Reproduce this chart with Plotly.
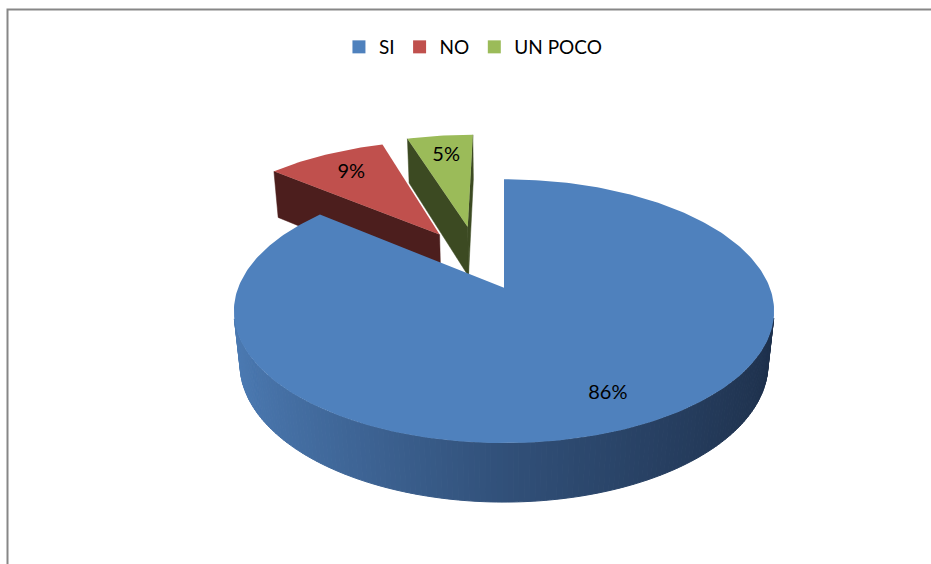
import numpy as np
import plotly.graph_objects as go

# ---------------- data ----------------
categories = ["SI", "NO", "UN POCO"]
values = [86, 9, 5]

# ---------------- style ----------------
W, H = 931, 564
top_colors = ["#4F81BD", "#C0504D", "#9BBB59"]
face_colors = ["#2A4670", "#4C1E1D", "#3C4A22"]
wall_stops = [(-1.0, (76, 123, 180)), (0.0, (49, 80, 121)), (1.0, (29, 47, 74))]
pull = [0.0, 0.52, 0.54]
pull_turn = [0.0, 4.0, -7.0]
label_r = [0.80, 0.75, 0.75]
FONT = "Lato"

# camera / projection parameters
PHI = np.radians(30.0)
DIST = 5.0
HGT = 0.22
SX, SY = 260.0, 268.0
CX, CY = 504.0, 340.0
CAM = np.array([0.0, DIST * np.sin(PHI), DIST * np.cos(PHI)])


def proj(X, Y, Z):
    X = np.asarray(X, float)
    Y = np.asarray(Y, float)
    Z = np.asarray(Z, float)
    yc = Y * np.cos(PHI) - Z * np.sin(PHI)
    d = Y * np.sin(PHI) + Z * np.cos(PHI)
    p = DIST / (DIST - d)
    return CX + SX * X * p, CY - SY * yc * p


def depth(X, Y, Z):
    return Y * np.sin(PHI) + Z * np.cos(PHI)


def wall_color(x):
    for (x0, c0), (x1, c1) in zip(wall_stops[:-1], wall_stops[1:]):
        if x <= x1 or (x1 == wall_stops[-1][0]):
            t = min(max((x - x0) / (x1 - x0), 0.0), 1.0)
            c = [int(round(a + (b - a) * t)) for a, b in zip(c0, c1)]
            return "rgb(%d,%d,%d)" % tuple(c)


def poly(xs, ys, color, lw=0.0):
    xs = list(xs) + [xs[0]]
    ys = list(ys) + [ys[0]]
    return go.Scatter(x=xs, y=ys, mode="lines", fill="toself", fillcolor=color,
                      line=dict(color=color, width=lw), hoverinfo="skip",
                      showlegend=False)


total = float(sum(values))
edges = np.concatenate([[0.0], np.cumsum(values)]) / total * 360.0

slices = []
for i, v in enumerate(values):
    a0, a1 = edges[i], edges[i + 1]
    mid = 0.5 * (a0 + a1)
    ang = np.radians(mid + pull_turn[i])
    ox, oz = pull[i] * np.sin(ang), -pull[i] * np.cos(ang)
    md = depth(ox + 0.5 * np.sin(np.radians(mid)), 0.0, oz - 0.5 * np.cos(np.radians(mid)))
    slices.append(dict(i=i, a0=a0, a1=a1, mid=mid, ox=ox, oz=oz, md=md))

traces = []
label_x, label_y, label_t = [], [], []

for s in sorted(slices, key=lambda q: q["md"]):
    i, a0, a1, ox, oz = s["i"], s["a0"], s["a1"], s["ox"], s["oz"]
    n = max(3, int((a1 - a0) / 1.0) + 1)
    th = np.radians(np.linspace(a0, a1, n))
    rx, rz = ox + np.sin(th), oz - np.cos(th)

    # radial faces
    for a, sign in ((a0, -1.0), (a1, 1.0)):
        ar = np.radians(a)
        nvec = sign * np.array([np.cos(ar), 0.0, np.sin(ar)])
        P = np.array([ox, 0.0, oz])
        if np.dot(nvec, CAM - P) > 1e-9:
            ex, ez = ox + np.sin(ar), oz - np.cos(ar)
            X = [ox, ex, ex, ox]
            Y = [HGT, HGT, 0.0, 0.0]
            Z = [oz, ez, ez, oz]
            px, py = proj(X, Y, Z)
            traces.append(poly(px, py, face_colors[i], 0.5))

    # outer wall, in strips
    for k in range(n - 1):
        tm = 0.5 * (th[k] + th[k + 1])
        nvec = np.array([np.sin(tm), 0.0, -np.cos(tm)])
        P = np.array([ox + np.sin(tm), 0.0, oz - np.cos(tm)])
        if np.dot(nvec, CAM - P) <= 0:
            continue
        X = [rx[k], rx[k + 1], rx[k + 1], rx[k]]
        Y = [HGT, HGT, 0.0, 0.0]
        Z = [rz[k], rz[k + 1], rz[k + 1], rz[k]]
        px, py = proj(X, Y, Z)
        col = wall_color(np.sin(tm)) if i == 0 else face_colors[i]
        traces.append(poly(px, py, col, 1.0))

    # top face
    X = np.concatenate([[ox], rx])
    Z = np.concatenate([[oz], rz])
    px, py = proj(X, np.full_like(X, HGT), Z)
    traces.append(poly(px, py, top_colors[i], 0.0))

    # label
    mr = np.radians(s["mid"])
    lx, ly = proj(ox + label_r[i] * np.sin(mr), HGT, oz - label_r[i] * np.cos(mr))
    label_x.append(float(lx))
    label_y.append(float(ly))
    label_t.append("%d%%" % round(values[i] / total * 100))

fig = go.Figure()
for i, c in enumerate(categories):
    fig.add_trace(go.Scatter(x=[None], y=[None], mode="markers", name=c,
                             marker=dict(symbol="square", size=13, color=top_colors[i]),
                             showlegend=True, hoverinfo="skip"))
for t in traces:
    fig.add_trace(t)
fig.add_trace(go.Scatter(x=label_x, y=label_y, mode="text", text=label_t,
                         textfont=dict(family=FONT, size=20, color="#000000"),
                         hoverinfo="skip", showlegend=False))

fig.add_shape(type="rect", xref="x", yref="y", x0=7.5, y0=9.5, x1=W + 30, y1=H + 30,
              line=dict(color="#878787", width=2), fillcolor="rgba(0,0,0,0)", layer="above")

fig.update_layout(
    width=W, height=H,
    margin=dict(l=0, r=0, t=0, b=0),
    paper_bgcolor="white", plot_bgcolor="white",
    xaxis=dict(range=[0, W], visible=False, fixedrange=True),
    yaxis=dict(range=[H, 0], visible=False, fixedrange=True),
    showlegend=True,
    hovermode=False,
    legend=dict(orientation="h", x=0.508, xanchor="center", y=1 - 47 / H, yanchor="middle",
                font=dict(family=FONT, size=19, color="#000000"),
                bgcolor="rgba(0,0,0,0)", traceorder="normal"),
)

fig.write_html("out.html", config={"displayModeBar": False},
               post_script="document.body.style.margin='0px';")
